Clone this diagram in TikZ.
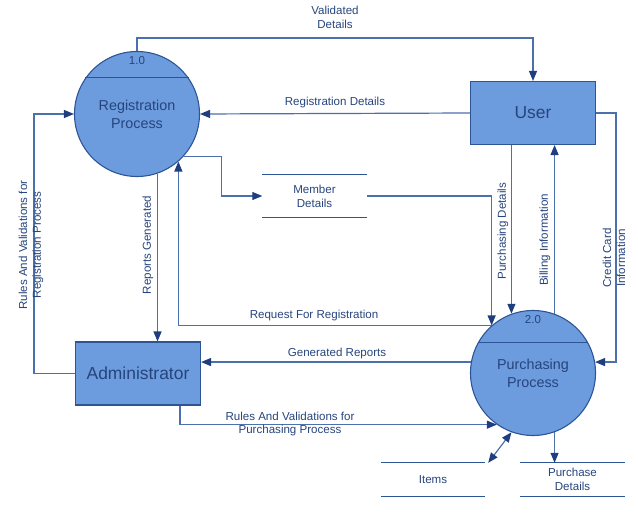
\documentclass[tikz,border=0pt]{standalone}
\usepackage{fontspec}
\setmainfont{Liberation Sans}
\usetikzlibrary{arrows.meta, positioning, calc}
\definecolor{procfill}{RGB}{108,156,222}
\definecolor{edgeblue}{RGB}{45,85,150}
\definecolor{lineblue}{RGB}{75,112,172}
\definecolor{headblue}{RGB}{30,62,128}
\definecolor{txtblue}{RGB}{38,68,125}

\begin{document}
\begin{tikzpicture}[x=1bp, y=-1bp,
    proc/.style={circle, draw=edgeblue, fill=procfill, line width=1.1bp, minimum size=125bp, inner sep=0pt, align=center, text=txtblue, font=\fontsize{14.4}{18}\selectfont},
    entity/.style={rectangle, draw=edgeblue, fill=procfill, line width=1.1bp, minimum width=125bp, minimum height=63bp, text=txtblue, font=\fontsize{17.5}{20}\selectfont},
    store/.style={minimum width=104bp, minimum height=42bp, align=center, text=txtblue, font=\fontsize{11.6}{14}\selectfont},
    storeline/.style={draw=edgeblue, line width=1.1bp},
    flow/.style={draw=lineblue, line width=1.2bp, -{Triangle[length=10bp, width=8bp, color=headblue]}},
    lbl/.style={text=txtblue, align=center, inner sep=1bp, font=\fontsize{11.6}{14}\selectfont}]
    \useasboundingbox (0,0) rectangle (638,514);

    % processes, entities and stores
    \node[proc] (reg) at (137,114) {Registration\\Process};
    \node[proc] (purch) at (533,373) {Purchasing\\Process};
    \node[entity] (user) at (533,113) {User};
    \node[entity] (admin) at (138,373.5) {Administrator};
    \node[store] (member) at (314.5,196) {Member\\Details};
    \node[store, minimum height=33bp] (items) at (433,479.5) {Items};
    \node[store, minimum width=105bp, minimum height=33bp] (pdet) at (572.5,479.5) {Purchase\\Details};
    \foreach \s in {member,items,pdet}
        \draw[storeline] (\s.north west) -- (\s.north east) (\s.south west) -- (\s.south east);

    \draw[storeline] (reg.145) -- (reg.35);
    \draw[storeline] (purch.151) -- (purch.29);
    \node[lbl, below=4bp of reg.north] (regno) {1.0};
    \node[lbl, below=4bp of purch.north] (purchno) {2.0};

    % flows
    \draw[flow] (reg.north) -- ++(0,-13) -| (user.north);
    \draw[flow] (user.west) -- (reg.east);
    \draw[flow] (reg.-42) -- ++(38,0) |- (member.west);
    \draw[flow] (member.east) -| (purch.131);
    \draw[flow] (purch.131) -| (reg.-49);
    \draw[flow] (user.south -| purch.110) -- (purch.110);
    \draw[flow] (purch.70) -- (purch.70 |- user.south);
    \draw[flow] (user.east) -- ++(20,0) |- (purch.10);
    \draw[flow] (reg.-71) -- (reg.-71 |- admin.north);
    \draw[flow] (admin.west) -- ++(-41,0) |- (reg.west);
    \draw[flow] (purch.170) -- (purch.170 -| admin.east);
    \draw[flow] ([xshift=-21bp]admin.south east) |- (purch.235);
    \draw[flow, {Triangle[length=10bp, width=8bp, color=headblue]}-{Triangle[length=10bp, width=8bp, color=headblue]}] ([xshift=3bp]items.north east) -- (purch.250);
    \draw[flow] (purch.-70) -- (purch.-70 |- pdet.north);

    % flow labels
    \node[lbl] (lvalid) at (335,17) {Validated\\Details};
    \node[lbl] (lregdet) at (335,103) {Registration Details};
    \node[lbl] (lreq) at (314,316) {Request For Registration};
    \node[lbl] (lgen) at (337,354) {Generated Reports};
    \node[lbl] (lrulp) at (290,424) {Rules And Validations for\\Purchasing Process};
    \node[lbl, rotate=90] (lrep) at (148,245) {Reports Generated};
    \node[lbl, rotate=90] (lrulr) at (31,245) {Rules And Validations for\\Registration Process};
    \node[lbl, rotate=90] (lpdet) at (503,231) {Purchasing Details};
    \node[lbl, rotate=90] (lbill) at (545,240) {Billing Information};
    \node[lbl, rotate=90] (lcred) at (614,258) {Credit Card\\Information};
\end{tikzpicture}
\end{document}
